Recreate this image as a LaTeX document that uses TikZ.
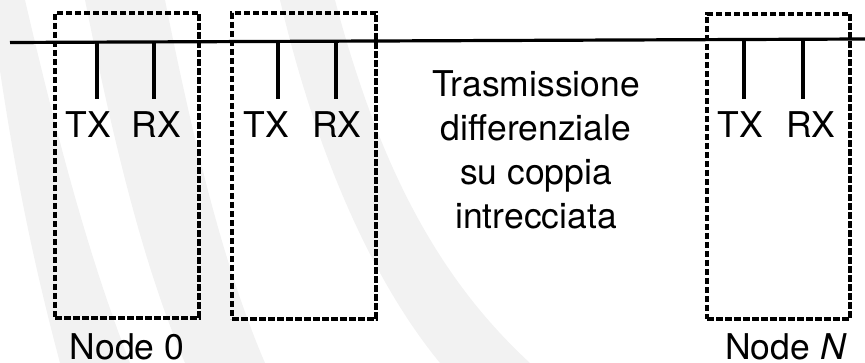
\documentclass[tikz,border=0pt]{standalone}
\usepackage{fontspec}
\setmainfont{TeX Gyre Heros}
\begin{document}
\begin{tikzpicture}[x=1pt,y=-1pt,
  nodebox/.style={draw=black,line width=3.4pt,dash pattern=on 6.5pt off 2.5pt,inner sep=0pt},
  lbl/.style={inner sep=0pt,anchor=base,font=\fontsize{35.5}{44}\selectfont},
  bus/.style={line width=3.2pt},
  stub/.style={line width=4pt},
  wm/.style={fill=black!5,draw=none}]
\useasboundingbox (0,0) rectangle (865,363);
% faint background watermark bands
\fill[wm] (-10,0) -- (25,0) .. controls (60,150) and (90,260) .. (130,363) -- (60,363) .. controls (30,250) and (10,150) .. (-10,0) -- cycle;
\fill[wm] (85,0) -- (165,0) .. controls (195,150) and (225,270) .. (265,363) -- (185,363) .. controls (145,270) and (115,150) .. (85,0) -- cycle;
\fill[wm] (280,0) -- (335,0) .. controls (380,170) and (440,280) .. (530,363) -- (440,363) .. controls (380,290) and (320,170) .. (280,0) -- cycle;
% bus
\coordinate (busL) at (10,42.5);
\coordinate (busR) at (865,39);
\draw[bus] (busL) -- (busR);
% node boxes
\node[nodebox,minimum width=144pt,minimum height=305pt] (box0) at (127,165.5) {};
\node[nodebox,minimum width=144pt,minimum height=306pt] (box1) at (304,166) {};
\node[nodebox,minimum width=143pt,minimum height=305pt] (boxN) at (778.5,166.5) {};
% stubs
\foreach \n/\x/\y in {a/97/42,b/154/42,c/278/41.5,d/336/41.5,e/744/40,f/803/40}{
  \coordinate (\n top) at (\x,\y);
  \coordinate (\n bot) at (\x,99);
  \draw[stub] (\n top) -- (\n bot);
}
% labels
\node[lbl] (tx0) at (88.5,138) {TX};
\node[lbl] (rx0) at (156.5,138) {RX};
\node[lbl] (tx1) at (266,138) {TX};
\node[lbl] (rx1) at (337,138) {RX};
\node[lbl] (txN) at (740.5,138) {TX};
\node[lbl] (rxN) at (811,138) {RX};
\node[lbl] (name0) at (127,359.5) {Node 0};
\node[lbl] (nameN) at (786,359.5) {Node \textit{N}};
% center text
\node[lbl] (t1) at (536,97) {Trasmissione};
\node[lbl] (t2) at (536,141) {differenziale};
\node[lbl] (t3) at (536,185) {su coppia};
\node[lbl] (t4) at (536,229) {intrecciata};
\end{tikzpicture}
\end{document}
